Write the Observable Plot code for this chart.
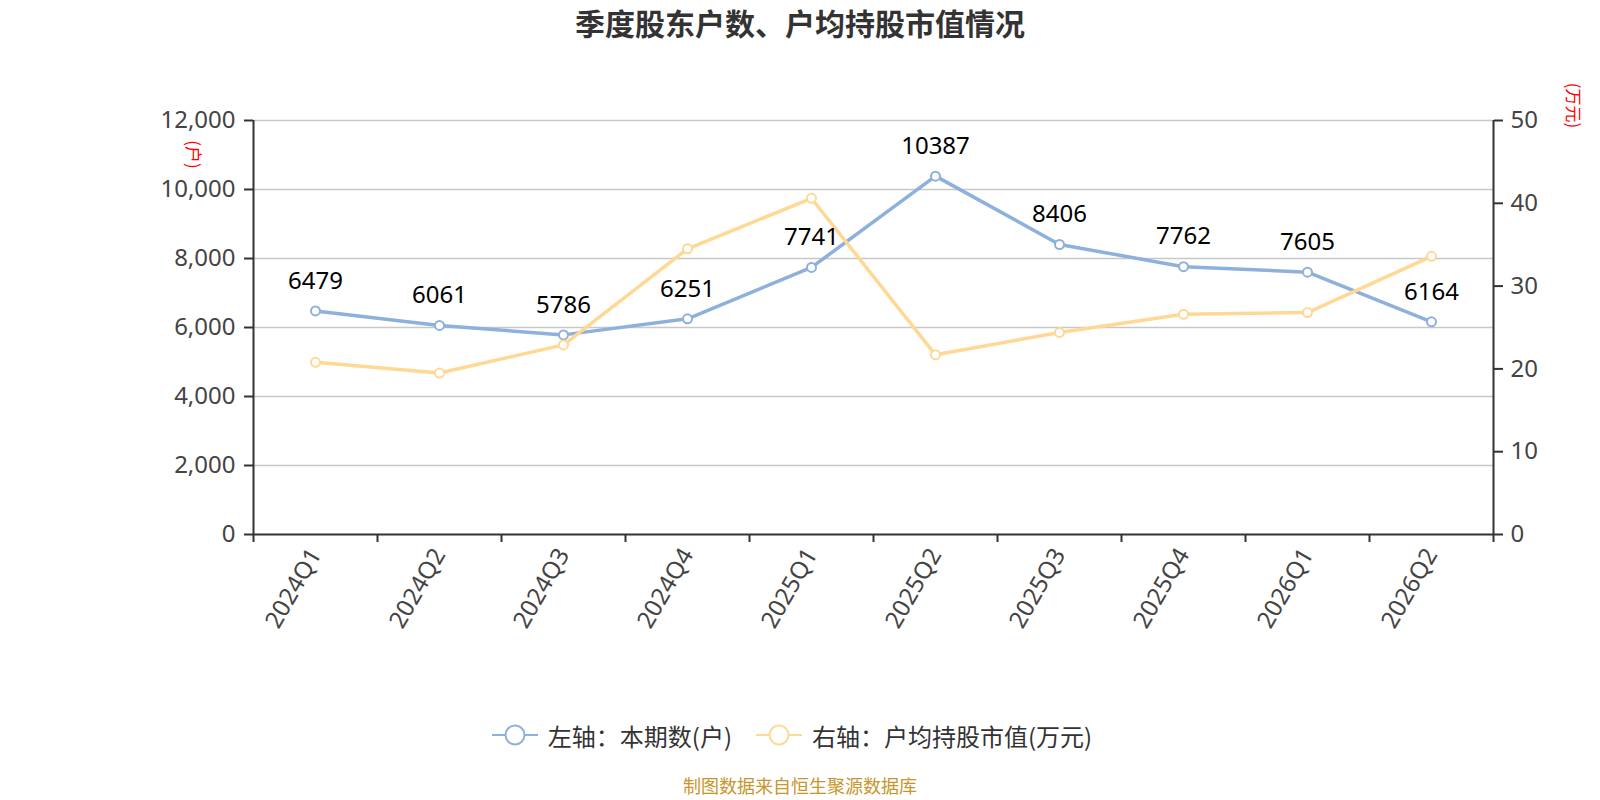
<!DOCTYPE html>
<html>
<head>
<meta charset="utf-8">
<script src="https://cdn.jsdelivr.net/npm/d3@7"></script>
<script src="https://cdn.jsdelivr.net/npm/@observablehq/plot@0.6"></script>
<style>
  html, body { margin: 0; padding: 0; background: #fff; }
  #wrap { position: relative; width: 1600px; height: 800px; overflow: hidden; font-family: "Noto Sans", "Noto Sans CJK SC", sans-serif; }
  #title { position: absolute; left: 0; top: 0; width: 1600px; height: 45px; line-height: 45px; text-align: center; font-size: 30px; font-weight: bold; color: #333; font-family: "Noto Sans CJK SC", sans-serif; }
  #chart { position: absolute; left: 0; top: 45px; }
  #legend { position: absolute; left: -8px; top: 715px; width: 1600px; height: 40px; display: flex; justify-content: center; align-items: center; font-size: 24px; color: #333; font-family: "Noto Sans CJK SC", sans-serif; }
  .item { display: flex; align-items: center; margin: 0 12px; }
  .item svg { margin-right: 10px; }
  #caption { position: absolute; left: 0; top: 773px; width: 1600px; height: 24px; line-height: 24px; text-align: center; font-size: 18px; color: #c8952b; font-family: "Noto Sans CJK SC", sans-serif; }
</style>
</head>
<body>
<div id="wrap">
  <div id="title"></div>
  <div id="chart"></div>
  <div id="legend"></div>
  <div id="caption"></div>
</div>
<script>
const titleText = "季度股东户数、户均持股市值情况";
const captionText = "制图数据来自恒生聚源数据库";
const quarters = ["2024Q1","2024Q2","2024Q3","2024Q4","2025Q1","2025Q2","2025Q3","2025Q4","2026Q1","2026Q2"];
const holders = [6479, 6061, 5786, 6251, 7741, 10387, 8406, 7762, 7605, 6164];
const avgValue = [20.8, 19.5, 22.9, 34.5, 40.6, 21.7, 24.4, 26.6, 26.8, 33.6];
const leftTicks = [0, 2000, 4000, 6000, 8000, 10000, 12000];
const rightTicks = [0, 10, 20, 30, 40, 50];
const seriesNames = ["左轴：本期数(户)", "右轴：户均持股市值(万元)"];
const unitLeft = "(户)";
const unitRight = "(万元)";
const colors = ["#8eb0dc", "#ffd894"];

const leftMax = leftTicks[leftTicks.length - 1];
const rightMax = rightTicks[rightTicks.length - 1];
const ratio = leftMax / rightMax;

const rows = quarters.map((q, i) => ({ i, q, h: holders[i], v: avgValue[i] }));
const centers = quarters.map((_, i) => i);
const bounds = quarters.map((_, i) => i - 0.5).concat([quarters.length - 0.5]);

document.getElementById("title").textContent = titleText;
document.getElementById("caption").textContent = captionText;

const axisColor = "#333";
const labelColor = "#444";
const font = "\"Noto Sans\", \"Noto Sans CJK SC\", sans-serif";
const cjk = "\"Noto Sans CJK SC\", sans-serif";

const chart = Plot.plot({
  width: 1600,
  height: 660,
  marginLeft: 253,
  marginRight: 107,
  marginTop: 75,
  marginBottom: 171,
  style: { fontFamily: font, background: "transparent", overflow: "visible" },
  x: { type: "linear", domain: [-0.5, quarters.length - 0.5], axis: null },
  y: { domain: [0, leftMax], axis: null },
  marks: [
    Plot.ruleY(leftTicks.slice(1), { stroke: "#c8c8c8", strokeWidth: 1.5 }),
    Plot.axisY({ label: null, ticks: leftTicks, tickFormat: d3.format(","), tickSize: 9, tickPadding: 9, fontSize: 24, stroke: axisColor, strokeWidth: 2, fill: labelColor }),
    Plot.axisY({ label: null, anchor: "right", ticks: rightTicks.map(v => v * ratio), tickFormat: d => String(Math.round(d / ratio)), tickSize: 9, tickPadding: 8, fontSize: 24, stroke: axisColor, strokeWidth: 2, fill: labelColor }),
    Plot.axisX({ label: null, ticks: bounds, tickFormat: () => "", tickSize: 8, stroke: axisColor, strokeWidth: 2 }),
    Plot.axisX({ label: null, ticks: centers, tickFormat: i => quarters[i], tickSize: 0, tickPadding: 16, tickRotate: -60, fontSize: 24, fill: labelColor }),
    Plot.ruleX([-0.5, quarters.length - 0.5], { stroke: axisColor, strokeWidth: 2 }),
    Plot.ruleY([0], { stroke: axisColor, strokeWidth: 2 }),
    Plot.line(rows, { x: "i", y: "h", stroke: colors[0], strokeWidth: 3.5 }),
    Plot.line(rows, { x: "i", y: d => d.v * ratio, stroke: colors[1], strokeWidth: 3.5 }),
    Plot.dot(rows, { x: "i", y: "h", r: 4.5, fill: "white", stroke: colors[0], strokeWidth: 2 }),
    Plot.dot(rows, { x: "i", y: d => d.v * ratio, r: 4.5, fill: "white", stroke: colors[1], strokeWidth: 2 }),
    Plot.text(rows, { x: "i", y: "h", text: d => String(d.h), dy: -30, fontSize: 24, fill: "#000" }),
    Plot.text([unitLeft], { frameAnchor: "top-left", textAnchor: "middle", lineAnchor: "middle", text: d => d, rotate: 90, dx: -61.5, dy: 34, fill: "red", fontSize: 17, fontFamily: cjk }),
    Plot.text([unitRight], { frameAnchor: "top-right", textAnchor: "middle", lineAnchor: "middle", text: d => d, rotate: 90, dx: 79, dy: -15, fill: "red", fontSize: 17, fontFamily: cjk })
  ]
});
document.getElementById("chart").appendChild(chart);

const legend = document.getElementById("legend");
seriesNames.forEach((name, k) => {
  const item = document.createElement("div");
  item.className = "item";
  item.innerHTML = `<svg width="46" height="24" viewBox="0 0 46 24"><line x1="0" y1="12" x2="46" y2="12" stroke="${colors[k]}" stroke-width="2"/><circle cx="23" cy="12" r="9.5" fill="white" stroke="${colors[k]}" stroke-width="2"/></svg><span>${name}</span>`;
  legend.appendChild(item);
});
</script>
</body>
</html>
